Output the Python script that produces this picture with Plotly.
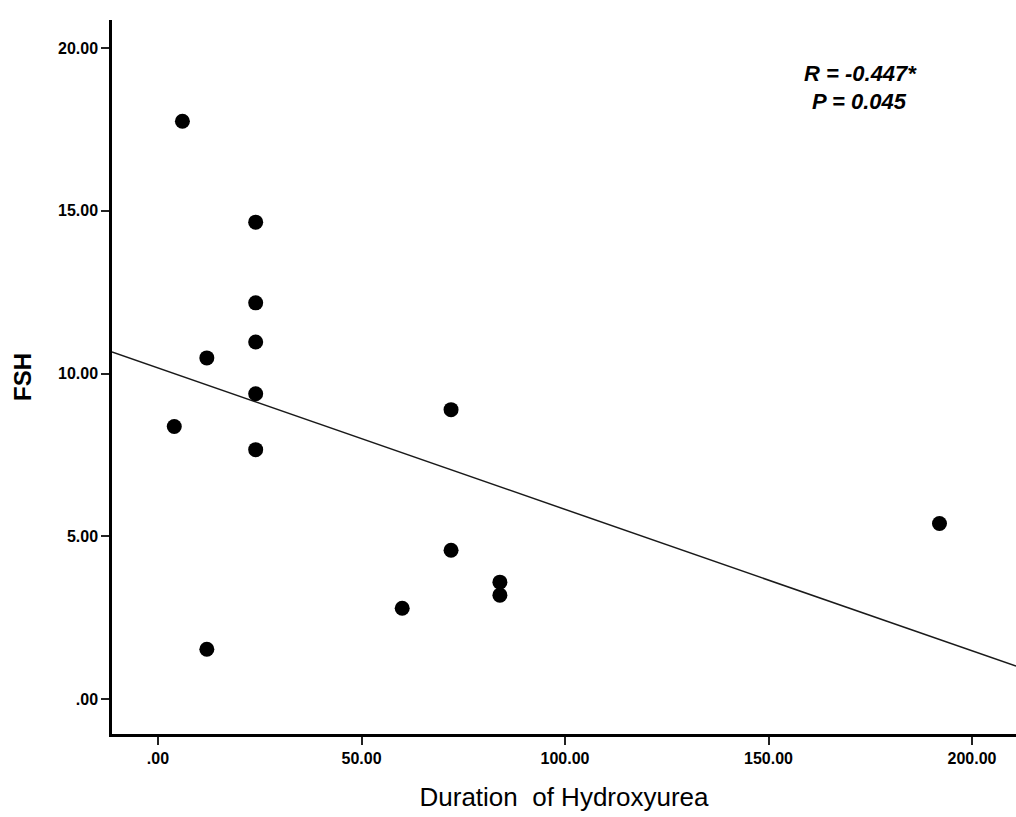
import numpy as np
import plotly.graph_objects as go

duration = [6, 24, 24, 24, 12, 24, 4, 24, 72, 72, 84, 84, 60, 12, 192]
fsh = [17.75, 14.65, 12.17, 10.97, 10.48, 9.38, 8.37, 7.66, 8.89, 4.57, 3.59, 3.19, 2.79, 1.53, 5.39]

x_ticks = [0, 50, 100, 150, 200]
x_tick_labels = [".00", "50.00", "100.00", "150.00", "200.00"]
y_ticks = [0, 5, 10, 15, 20]
y_tick_labels = [".00", "5.00", "10.00", "15.00", "20.00"]
x_range = [-11.3, 210.8]
y_range = [-1.075, 20.86]
annotation_lines = ["R = -0.447*", "P = 0.045"]

slope, intercept = np.polyfit(duration, fsh, 1)
fit_x = np.array(x_range)
fit_y = slope * fit_x + intercept

fig = go.Figure()
fig.add_trace(go.Scatter(x=fit_x, y=fit_y, mode="lines",
                         line=dict(color="#1a1a1a", width=1.5), showlegend=False,
                         hoverinfo="skip"))
fig.add_trace(go.Scatter(x=duration, y=fsh, mode="markers",
                         marker=dict(color="black", size=15), showlegend=False))

font_family = "Liberation Sans, Arial, sans-serif"
L, T, B, W, H = 112, 20, 83, 1016, 817
fig.update_layout(
    width=W, height=H,
    margin=dict(l=L, r=0, t=T, b=B),
    plot_bgcolor="white", paper_bgcolor="white",
    font=dict(family=font_family, color="black"),
    xaxis=dict(range=x_range, tickvals=x_ticks, ticktext=x_tick_labels,
               showgrid=False, zeroline=False, showline=True, linecolor="black",
               linewidth=2.5, ticks="outside", ticklen=8, tickwidth=1.5, tickcolor="#222",
               tickfont=dict(size=16, family=font_family, weight="bold"),
               title=dict(text="Duration\u00a0 of Hydroxyurea", font=dict(size=26), standoff=22)),
    yaxis=dict(range=y_range, tickvals=y_ticks, ticktext=y_tick_labels,
               showgrid=False, zeroline=False, showline=True, linecolor="black",
               linewidth=2.5, ticks="outside", ticklen=8, tickwidth=1.5, tickcolor="#222",
               tickfont=dict(size=16, family=font_family, weight="bold"),
               title=dict(text="FSH", font=dict(size=24, weight="bold"), standoff=20)),
)
pw = W - L
ph = H - T - B
ann_pos = [(860, 74), (859, 101)]
for text, (px, py) in zip(annotation_lines, ann_pos):
    fig.add_annotation(x=(px - L) / pw, y=1 - (py - T) / ph, xref="paper", yref="paper",
                       text=text, showarrow=False, xanchor="center", yanchor="middle",
                       font=dict(size=22, family=font_family, style="italic", weight="bold"))

fig.write_html("out.html", config={"displayModeBar": False},
               post_script="document.body.style.margin='0';document.body.style.padding='0';")
